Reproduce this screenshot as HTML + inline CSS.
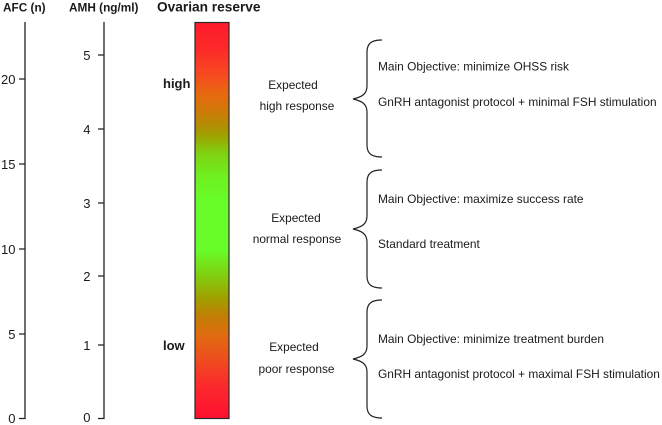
<!DOCTYPE html>
<html>
<head>
<meta charset="utf-8">
<style>
html,body{margin:0;padding:0;background:#fff;width:662px;height:425px;overflow:hidden}
svg{display:block}
text{font-family:"Liberation Sans",Arial,sans-serif;fill:#1a1a1a}
.t{font-size:11.9px}
.n{font-size:13px}
.b{font-weight:bold}
</style>
</head>
<body>
<svg width="662" height="425" viewBox="0 0 662 425" xmlns="http://www.w3.org/2000/svg">
<defs>
<linearGradient id="g" x1="0" y1="22" x2="0" y2="418" gradientUnits="userSpaceOnUse">
<stop offset="0" stop-color="#fe1a2c"/>
<stop offset="0.07" stop-color="#fc2a28"/>
<stop offset="0.134" stop-color="#f64a20"/>
<stop offset="0.18" stop-color="#e86810"/>
<stop offset="0.222" stop-color="#d07808"/>
<stop offset="0.26" stop-color="#b48c04"/>
<stop offset="0.285" stop-color="#a0a000"/>
<stop offset="0.33" stop-color="#80d010"/>
<stop offset="0.39" stop-color="#70f020"/>
<stop offset="0.45" stop-color="#68fc28"/>
<stop offset="0.576" stop-color="#68fc28"/>
<stop offset="0.639" stop-color="#80d010"/>
<stop offset="0.697" stop-color="#a0a000"/>
<stop offset="0.74" stop-color="#c08004"/>
<stop offset="0.79" stop-color="#e06c10"/>
<stop offset="0.859" stop-color="#f04a20"/>
<stop offset="0.917" stop-color="#fc2a2c"/>
<stop offset="1" stop-color="#fe1030"/>
</linearGradient>
</defs>
<rect width="662" height="425" fill="#fff"/>

<text class="b" x="3" y="11.500" font-size="11.800">AFC (n)</text>
<text class="b" x="69" y="11.500" font-size="11.800">AMH (ng/ml)</text>
<text class="b" x="157" y="11.500" font-size="13.700">Ovarian reserve</text>

<g stroke="#222" stroke-width="1.300" fill="none">
<path d="M25 22V418.500H19M25 79H19M25 164H19M25 249H19M25 334H19"/>
<path d="M104 22V418.500H98M104 55H98M104 129H98M104 203H98M104 276H98M104 345H98"/>
</g>

<g>
<text x="15.500" y="84" text-anchor="end" class="n">20</text>
<text x="15.500" y="169" text-anchor="end" class="n">15</text>
<text x="15.500" y="254" text-anchor="end" class="n">10</text>
<text x="15.500" y="339" text-anchor="end" class="n">5</text>
<text x="15.500" y="423" text-anchor="end" class="n">0</text>
<text x="90.500" y="60" text-anchor="end" class="n">5</text>
<text x="90.500" y="134" text-anchor="end" class="n">4</text>
<text x="90.500" y="208" text-anchor="end" class="n">3</text>
<text x="90.500" y="281" text-anchor="end" class="n">2</text>
<text x="90.500" y="350" text-anchor="end" class="n">1</text>
<text x="90.500" y="422" text-anchor="end" class="n">0</text>
</g>

<rect x="195" y="22.500" width="34" height="396" fill="url(#g)" stroke="#2a2a2a" stroke-width="1.200"/>

<text class="b" x="163" y="88" font-size="13">high</text>
<text class="b" x="163" y="350" font-size="13">low</text>

<text class="t" x="293" y="89" text-anchor="middle">Expected</text>
<text class="t" x="297" y="110" text-anchor="middle">high response</text>
<text class="t" x="296" y="222" text-anchor="middle">Expected</text>
<text class="t" x="297" y="243" text-anchor="middle">normal response</text>
<text class="t" x="294" y="351" text-anchor="middle">Expected</text>
<text class="t" x="296.500" y="373" text-anchor="middle">poor response</text>

<g fill="none" stroke="#222" stroke-width="1.200">
<path d="M382 40C372 40 367 43 367 52V86C367 94 362 97 353 99C362 101 367 104 367 112V145C367 154 372 157 382 157"/>
<path d="M382 170C372 170 367 173 367 182V216C367 224 362 227 353 229C362 231 367 234 367 242V276C367 285 372 288 382 288"/>
<path d="M382 300C372 300 367 303 367 312V346C367 354 362 357 353 359C362 361 367 364 367 372V406C367 415 372 418 382 418"/>
</g>

<text class="t" x="378" y="70.500">Main Objective: minimize OHSS risk</text>
<text class="t" x="378" y="106">GnRH antagonist protocol + minimal FSH stimulation</text>
<text class="t" x="378" y="203">Main Objective: maximize success rate</text>
<text class="t" x="378" y="248">Standard treatment</text>
<text class="t" x="378" y="343">Main Objective: minimize treatment burden</text>
<text class="t" x="378" y="378">GnRH antagonist protocol + maximal FSH stimulation</text>
</svg>
</body>
</html>
